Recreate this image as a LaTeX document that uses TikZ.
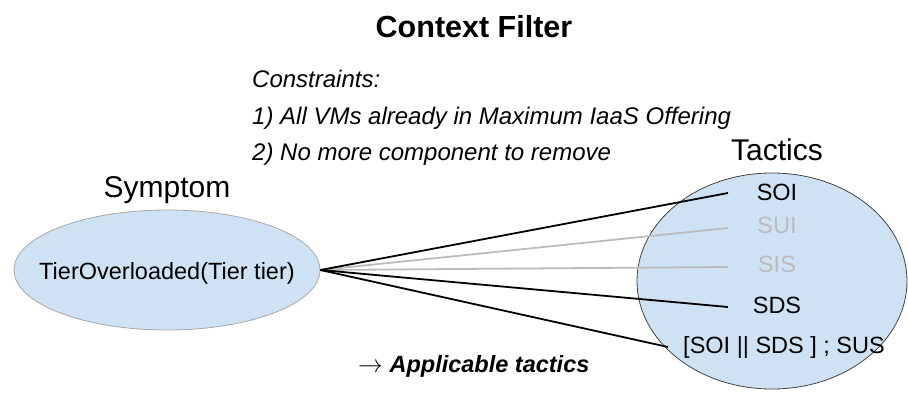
\documentclass[tikz,border=0pt]{standalone}
\usepackage{fontspec}
\setmainfont{Liberation Sans}
\usetikzlibrary{shapes.geometric}
\definecolor{bubble}{HTML}{CFE2F3}
\definecolor{lightedge}{HTML}{A8A8A8}
\definecolor{darkedge}{HTML}{444444}
\definecolor{faded}{HTML}{BBBBBB}
\tikzset{
  big/.style={font=\fontsize{30}{36}\selectfont, inner sep=0pt},
  small/.style={font=\fontsize{23.5}{28}\selectfont, inner sep=0pt},
  constr/.style={font=\fontsize{24}{29}\selectfont\itshape, inner sep=0pt, anchor=base west},
  bubblebox/.style={ellipse, fill=bubble, inner sep=0pt},
  strong/.style={line width=1.8pt, black},
  weak/.style={line width=1.8pt, faded},
}
\begin{document}
\begin{tikzpicture}[x=1pt,y=-1pt]
\useasboundingbox (0,0) rectangle (908,392);
% title
\node[big, font=\fontsize{30.5}{36}\selectfont\bfseries, anchor=base] (title) at (474,37) {Context Filter};
% constraints
\node[constr] (c0) at (252,87) {Constraints:};
\node[constr] (c1) at (252,124) {1) All VMs already in Maximum IaaS Offering};
\node[constr] (c2) at (252,160) {2) No more component to remove};
% ellipses
\node[bubblebox, draw=lightedge, line width=0.8pt, minimum width=306pt, minimum height=120pt] (symptom) at (167,270) {};
\node[bubblebox, draw=darkedge, line width=0.8pt, minimum width=270pt, minimum height=216pt] (tactics) at (772,281) {};
% headings
\node[big, anchor=base] (symlabel) at (167,197) {Symptom};
\node[big, anchor=base] (taclabel) at (777,160) {Tactics};
% symptom text
\node[small, anchor=base] (sym) at (167,279) {TierOverloaded(Tier tier)};
% tactic texts
\node[small, anchor=base] (soi) at (777,200) {SOI};
\node[small, anchor=base, text=faded] (sui) at (777,233) {SUI};
\node[small, anchor=base, text=faded] (sis) at (777,272) {SIS};
\node[small, anchor=base] (sds) at (777,313) {SDS};
\node[small, anchor=base] (combo) at (784,353) {[SOI || SDS ] ; SUS};
% connector ends
\coordinate (e1) at (728,193);
\coordinate (e2) at (728,228);
\coordinate (e3) at (728,267);
\coordinate (e4) at (728,307);
\coordinate (e5) at (668,347);
\draw[weak] (symptom.east) -- (e2);
\draw[weak] (symptom.east) -- (e3);
\draw[strong] (symptom.east) -- (e1);
\draw[strong] (symptom.east) -- (e4);
\draw[strong] (symptom.east) -- (e5);
% bottom note
\node[small, anchor=base west, font=\fontsize{23.5}{28}\selectfont\bfseries\itshape] (note) at (358,372) {$\rightarrow$ Applicable tactics};
\end{tikzpicture}
\end{document}
